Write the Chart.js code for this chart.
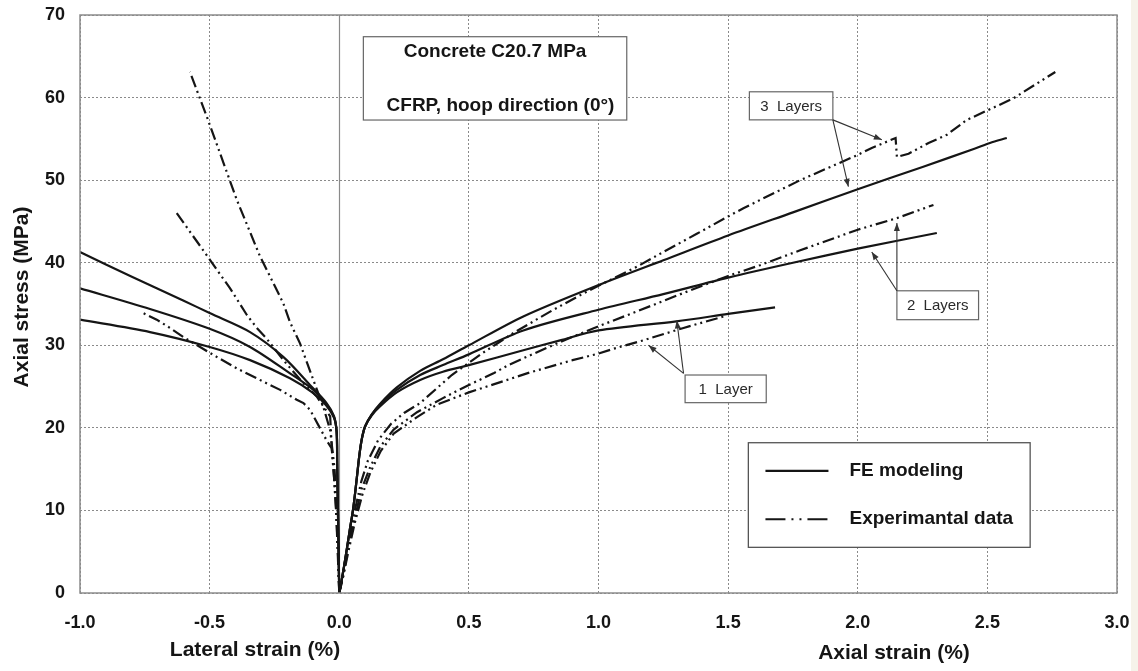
<!DOCTYPE html>
<html>
<head>
<meta charset="utf-8">
<script src="https://cdn.jsdelivr.net/npm/chart.js@4.4.1/dist/chart.umd.min.js"></script>
<style>
  html, body { margin: 0; padding: 0; background: #f6f3ea; }
  #wrap { width: 1131px; height: 671px; background: #fff; }
</style>
</head>
<body>
<div id="wrap"><canvas id="c" width="1131" height="671"></canvas></div>
<script>
/* ===== data: [strain %, stress MPa] ===== */
// FE modeling, axial side
const fe3Axial = [[0,0],[0.005,0.8],[0.02,3.5],[0.04,7.5],[0.055,10.5],[0.068,14],[0.078,16.8],[0.088,18.8],[0.1,20.2],[0.125,21.6],[0.157,22.9],[0.222,24.9],[0.312,26.9],[0.4,28.3],[0.5,30.0],[0.71,33.5],[1.0,37.3],[1.25,40.3],[1.5,43.3],[1.75,46.1],[2.0,48.9],[2.25,51.6],[2.45,53.8],[2.51,54.5],[2.575,55.1]];
const fe2Axial = [[0,0],[0.005,0.8],[0.02,3.5],[0.04,7.5],[0.055,10.5],[0.068,14],[0.078,16.8],[0.088,18.8],[0.1,20.2],[0.125,21.6],[0.157,22.8],[0.222,24.6],[0.312,26.4],[0.4,27.6],[0.5,28.9],[0.71,31.8],[1.0,34.3],[1.25,36.2],[1.5,38.2],[1.75,40.0],[2.0,41.7],[2.305,43.6]];
const fe1Axial = [[0,0],[0.005,0.8],[0.02,3.5],[0.04,7.5],[0.055,10.5],[0.068,14],[0.078,16.8],[0.088,18.8],[0.1,20.2],[0.125,21.5],[0.157,22.6],[0.222,24.3],[0.312,25.8],[0.4,26.8],[0.5,27.6],[0.71,29.4],[0.852,30.6],[1.0,31.8],[1.3,32.9],[1.5,33.8],[1.681,34.6]];
// FE modeling, lateral side
const fe3Lat = [[0,0],[-0.002,4],[-0.004,8],[-0.006,12],[-0.008,16],[-0.01,19.5],[-0.02,21.4],[-0.049,23.0],[-0.113,25.2],[-0.216,28.6],[-0.344,31.6],[-0.5,33.9],[-0.6,35.4],[-0.8,38.3],[-1.0,41.3]];
const fe2Lat = [[0,0],[-0.002,4],[-0.004,8],[-0.006,12],[-0.008,16],[-0.01,19.5],[-0.02,21.3],[-0.05,22.9],[-0.1,24.6],[-0.19,26.6],[-0.344,29.8],[-0.5,32.0],[-0.73,34.4],[-1.0,36.9]];
const fe1Lat = [[0,0],[-0.002,4],[-0.004,8],[-0.006,12],[-0.008,16],[-0.01,19.5],[-0.02,21.2],[-0.05,22.7],[-0.1,24.2],[-0.19,26.0],[-0.344,28.2],[-0.5,29.8],[-0.73,31.6],[-1.0,33.1]];
// experimental data, axial side
const ex3Axial = [[0,0],[0.015,2.5],[0.035,6],[0.06,10],[0.085,13.5],[0.11,16],[0.15,18.5],[0.2,20.5],[0.25,21.8],[0.312,23.0],[0.434,26.4],[0.55,29.0],[0.672,31.5],[0.826,34.3],[0.955,36.5],[1.147,39.5],[1.25,41.3],[1.379,43.5],[1.5,45.6],[1.559,46.6],[1.778,50.0],[1.996,53.0],[2.054,53.9],[2.146,55.1],[2.151,52.8],[2.196,53.2],[2.273,54.5],[2.344,55.5],[2.421,57.3],[2.504,58.5],[2.6,59.9],[2.762,63.1]];
const ex2Axial = [[0,0],[0.015,2],[0.035,5.5],[0.06,9],[0.085,12.5],[0.12,15.3],[0.16,17.8],[0.21,19.8],[0.3,21.9],[0.4,23.6],[0.5,25.2],[0.595,26.6],[0.652,27.6],[0.723,28.6],[0.852,30.4],[1.0,32.3],[1.148,34.1],[1.341,36.5],[1.5,38.4],[1.623,39.7],[1.778,41.5],[2.0,44.0],[2.151,45.4],[2.292,47.0]];
const ex1Axial = [[0,0],[0.015,2],[0.035,5],[0.06,8.5],[0.09,12],[0.12,14.6],[0.16,17.2],[0.21,19.3],[0.3,21.3],[0.376,22.8],[0.5,24.3],[0.569,25.0],[0.724,26.6],[0.9,28.2],[1.0,29.0],[1.06,29.6],[1.173,30.6],[1.328,32.1],[1.495,33.6]];
// experimental data, lateral side
const ex3Lat = [[0,0],[-0.004,5],[-0.01,10],[-0.018,15],[-0.035,19.7],[-0.062,22.6],[-0.1,25.8],[-0.151,30.2],[-0.19,32.8],[-0.216,35.1],[-0.306,40.8],[-0.395,47.6],[-0.511,57.7],[-0.576,63.1]];
const ex2Lat = [[0,0],[-0.005,5],[-0.012,10],[-0.02,14],[-0.029,17.7],[-0.035,21.4],[-0.087,23.8],[-0.138,25.4],[-0.21,28.0],[-0.28,30.8],[-0.318,32.1],[-0.357,33.7],[-0.421,36.9],[-0.453,38.3],[-0.511,40.9],[-0.627,46.0]];
const ex1Lat = [[0,0],[-0.006,5],[-0.012,10],[-0.02,14],[-0.029,17.5],[-0.049,18.5],[-0.113,22.2],[-0.138,23.0],[-0.164,23.4],[-0.228,24.6],[-0.293,25.6],[-0.344,26.4],[-0.395,27.2],[-0.473,28.6],[-0.5,29.1],[-0.601,31.0],[-0.653,32.1],[-0.704,33.1],[-0.756,33.9]];

const xTicks = [-1.0,-0.5,0.0,0.5,1.0,1.5,2.0,2.5,3.0];
const yTicks = [0,10,20,30,40,50,60,70];

/* ===== styles ===== */
const FONT = '"Liberation Sans", Arial, sans-serif';
const INK = '#151515';
const EXP_DASH = [12,4,2,4,2,4];

const toPts = a => a.map(([x,y]) => ({x, y}));
function line(label, pts, dashed){
  return {
    label, data: toPts(pts),
    borderColor: INK, borderWidth: 2.2,
    borderDash: dashed ? EXP_DASH : [],
    pointRadius: 0, pointHoverRadius: 0,
    showLine: true, fill: false,
    tension: dashed ? 0 : 0.3
  };
}

/* ===== annotations (data coords) ===== */
const notes = [
  { text: '3  Layers', box: [1.582, 60.7, 1.904, 57.3], from: [1.904, 57.3], to: [[2.093, 54.9], [1.964, 49.2]] },
  { text: '2  Layers', box: [2.151, 36.6, 2.466, 33.1], from: [2.151, 36.6], to: [[2.151, 44.8], [2.054, 41.3]] },
  { text: '1  Layer',  box: [1.334, 26.4, 1.647, 23.05], from: [1.328, 26.6], to: [[1.302, 33.0], [1.193, 30.0]] }
];

function arrow(ctx, x1, y1, x2, y2){
  ctx.beginPath(); ctx.moveTo(x1, y1); ctx.lineTo(x2, y2); ctx.stroke();
  const a = Math.atan2(y2 - y1, x2 - x1), L = 8, W = 3;
  ctx.beginPath();
  ctx.moveTo(x2, y2);
  ctx.lineTo(x2 - L*Math.cos(a) + W*Math.sin(a), y2 - L*Math.sin(a) - W*Math.cos(a));
  ctx.lineTo(x2 - L*Math.cos(a) - W*Math.sin(a), y2 - L*Math.sin(a) + W*Math.cos(a));
  ctx.closePath(); ctx.fill();
}

const deco = {
  id: 'deco',
  beforeDatasetsDraw(chart){
    const { ctx, chartArea: a, scales: { x } } = chart;
    ctx.save();
    ctx.strokeStyle = '#8a8a8a'; ctx.lineWidth = 1.2;
    const x0 = Math.round(x.getPixelForValue(0)) + 0.5;
    ctx.beginPath(); ctx.moveTo(x0, a.top); ctx.lineTo(x0, a.bottom); ctx.stroke();
    ctx.restore();
  },
  afterDatasetsDraw(chart){
    const { ctx, chartArea: a, scales: { x, y } } = chart;
    const px = v => x.getPixelForValue(v), py = v => y.getPixelForValue(v);
    ctx.save();
    // frame
    ctx.strokeStyle = '#8c8c8c'; ctx.lineWidth = 1.5;
    ctx.strokeRect(a.left, a.top, a.right - a.left, a.bottom - a.top);

    // title box
    ctx.fillStyle = '#fff'; ctx.strokeStyle = '#666'; ctx.lineWidth = 1.2;
    const tx1 = px(0.093), ty1 = py(67.37), tx2 = px(1.109), ty2 = py(57.28);
    ctx.fillRect(tx1, ty1, tx2 - tx1, ty2 - ty1);
    ctx.strokeRect(tx1, ty1, tx2 - tx1, ty2 - ty1);
    ctx.fillStyle = INK; ctx.font = `bold 19px ${FONT}`;
    ctx.textAlign = 'center'; ctx.textBaseline = 'middle';
    ctx.fillText('Concrete C20.7 MPa', px(0.601), py(65.5));
    ctx.fillText('CFRP, hoop direction (0°)', px(0.622), py(58.98));

    // layer labels + arrows
    ctx.font = `15px ${FONT}`;
    notes.forEach(n => {
      const [bx1, by1, bx2, by2] = n.box;
      const l = px(bx1), t = py(by1), r = px(bx2), b = py(by2);
      ctx.fillStyle = '#fff'; ctx.fillRect(l, t, r - l, b - t);
      ctx.strokeStyle = '#666'; ctx.lineWidth = 1.2; ctx.strokeRect(l, t, r - l, b - t);
      ctx.fillStyle = '#2a2a2a';
      ctx.fillText(n.text, (l + r) / 2, (t + b) / 2 + 1);
      ctx.strokeStyle = '#333'; ctx.fillStyle = '#333'; ctx.lineWidth = 1.1;
      n.to.forEach(([ex, ey]) => arrow(ctx, px(n.from[0]), py(n.from[1]), px(ex), py(ey)));
    });

    // legend
    const lx1 = px(1.578), ly1 = py(18.2), lx2 = px(2.665), ly2 = py(5.53);
    ctx.fillStyle = '#fff'; ctx.fillRect(lx1, ly1, lx2 - lx1, ly2 - ly1);
    ctx.strokeStyle = '#555'; ctx.lineWidth = 1.3; ctx.strokeRect(lx1, ly1, lx2 - lx1, ly2 - ly1);
    const items = [['FE modeling', [], 14.78], ['Experimantal data', [20,6,2,6,2,6], 8.93]];
    items.forEach(([label, dash, yy]) => {
      ctx.strokeStyle = INK; ctx.lineWidth = 2.2; ctx.setLineDash(dash);
      ctx.beginPath(); ctx.moveTo(px(1.644), py(yy)); ctx.lineTo(px(1.887), py(yy)); ctx.stroke();
      ctx.setLineDash([]);
      ctx.fillStyle = INK; ctx.font = `bold 19px ${FONT}`; ctx.textAlign = 'left';
      ctx.fillText(label, px(1.968), py(yy));
    });
    ctx.restore();
  },
  afterDraw(chart){
    const { ctx, chartArea: a } = chart;
    ctx.save();
    ctx.fillStyle = INK; ctx.font = `bold 21px ${FONT}`;
    ctx.textAlign = 'center'; ctx.textBaseline = 'middle';
    ctx.fillText('Lateral strain (%)', 255, a.bottom + 57);
    ctx.fillText('Axial strain (%)', 894, a.bottom + 60);
    ctx.translate(22, 297); ctx.rotate(-Math.PI / 2);
    ctx.fillText('Axial stress (MPa)', 0, 0);
    ctx.restore();
  }
};

const gridOpts = { color: '#8a8a8a', lineWidth: 1, drawTicks: false };

new Chart(document.getElementById('c').getContext('2d'), {
  type: 'scatter',
  data: {
    datasets: [
      line('FE 3 layers', fe3Axial, false),
      line('FE 2 layers', fe2Axial, false),
      line('FE 1 layer', fe1Axial, false),
      line('FE 3 layers lat', fe3Lat, false),
      line('FE 2 layers lat', fe2Lat, false),
      line('FE 1 layer lat', fe1Lat, false),
      line('Exp 3 layers', ex3Axial, true),
      line('Exp 2 layers', ex2Axial, true),
      line('Exp 1 layer', ex1Axial, true),
      line('Exp 3 layers lat', ex3Lat, true),
      line('Exp 2 layers lat', ex2Lat, true),
      line('Exp 1 layer lat', ex1Lat, true)
    ]
  },
  options: {
    responsive: false,
    animation: false,
    devicePixelRatio: 1,
    layout: { padding: { top: 15, right: 14, left: 0, bottom: 0 } },
    plugins: { legend: { display: false }, tooltip: { enabled: false } },
    scales: {
      x: {
        type: 'linear', min: -1, max: 3,
        afterFit: s => { s.height = 78; s.paddingLeft = 0; s.paddingRight = 0; },
        afterBuildTicks: s => { s.ticks = xTicks.map(v => ({ value: v })); },
        grid: gridOpts,
        border: { display: false, dash: [2, 2] },
        ticks: { padding: 19, color: INK, font: { family: FONT, size: 18, weight: 'bold' },
                 callback: v => v.toFixed(1) }
      },
      y: {
        type: 'linear', min: 0, max: 70,
        afterFit: s => { s.width = 80; s.paddingTop = 0; s.paddingBottom = 0; },
        afterBuildTicks: s => { s.ticks = yTicks.map(v => ({ value: v })); },
        grid: gridOpts,
        border: { display: false, dash: [2, 2] },
        ticks: { padding: 15, color: INK, font: { family: FONT, size: 18, weight: 'bold' },
                 callback: v => String(v) }
      }
    }
  },
  plugins: [deco]
});
</script>
</body>
</html>
